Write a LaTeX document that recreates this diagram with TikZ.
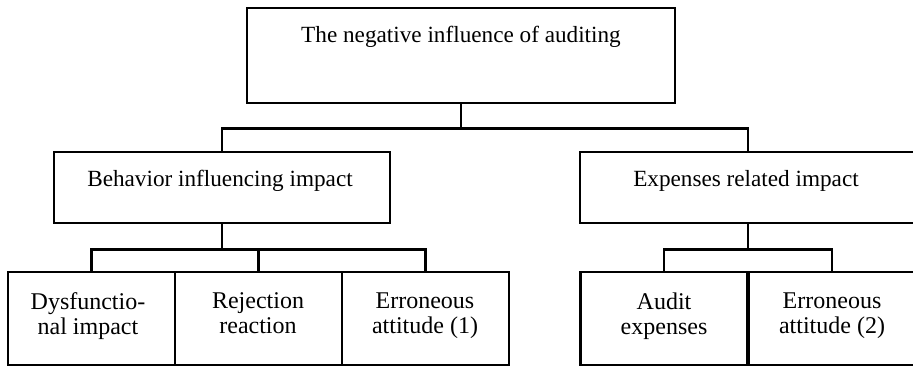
\documentclass[tikz,border=0pt]{standalone}
\usepackage{fontspec}
\setmainfont{Liberation Serif}
\tikzset{
  box/.style={draw, line width=1.3pt, inner sep=0pt},
  topbox/.style={box, minimum width=214pt, minimum height=47.5pt},
  midbox/.style={box, minimum width=168pt, minimum height=35.5pt},
  lowbox/.style={box, minimum width=83.5pt, minimum height=46.5pt},
  lbl/.style={inner sep=0pt, align=center, font=\fontsize{11.6}{12.5}\selectfont},
  lowlbl/.style={lbl, font=\fontsize{12}{12.5}\selectfont},
  link/.style={line width=1.3pt}
}
\begin{document}
\begin{tikzpicture}[x=0.5pt, y=-0.5pt]
	\useasboundingbox (0,0) rectangle (913,367);
	% boxes
	\node[topbox] (top) at (461,55.5) {};
	\node[midbox] (behav) at (222,187.5) {};
	\node[midbox] (expen) at (748,187.5) {};
	\node[lowbox] (dysf) at (91.5,318.5) {};
	\node[lowbox] (rejec) at (258.5,318.5) {};
	\node[lowbox] (erron1) at (425.5,318.5) {};
	\node[lowbox] (audit) at (664,318.5) {};
	\node[lowbox] (erron2) at (832,318.5) {};
	% texts
	\node[lbl, anchor=base] (topt) at (461,43) {The negative influence of auditing};
	\node[lbl, anchor=base] (behavt) at (220,187) {Behavior influencing impact};
	\node[lbl, anchor=base] (expent) at (746,187) {Expenses related impact};
	\node[lowlbl, anchor=north] (dysft) at (88,292) {Dysfunctio-\\nal impact};
	\node[lowlbl, anchor=north] (reject) at (258,292) {Rejection\\reaction};
	\node[lowlbl, anchor=north] (erron1t) at (425,292) {Erroneous\\attitude (1)};
	\node[lowlbl, anchor=north] (auditt) at (664,292) {Audit\\expenses};
	\node[lowlbl, anchor=north] (erron2t) at (832,292) {Erroneous\\attitude (2)};
	% connectors
	\draw[link] (top.south) -- ++(0,24) coordinate (split) -| (behav.north);
	\draw[link] (split) -| (expen.north);
	\draw[link] (behav.south) -- ++(0,25) coordinate (lsplit) -| (dysf.north);
	\draw[link] (lsplit) -| (rejec.north);
	\draw[link] (lsplit) -| (erron1.north);
	\draw[link] (expen.south) -- ++(0,25) coordinate (rsplit) -| (audit.north);
	\draw[link] (rsplit) -| (erron2.north);
\end{tikzpicture}
\end{document}
